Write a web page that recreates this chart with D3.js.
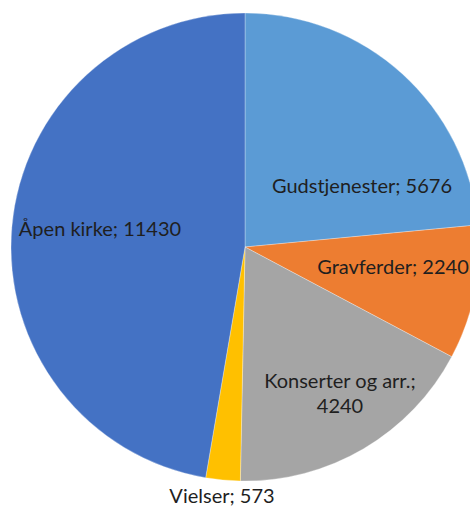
<!DOCTYPE html>
<html>
<head>
<meta charset="utf-8">
<script src="https://cdn.jsdelivr.net/npm/d3@7"></script>
<style>
  html, body { margin: 0; padding: 0; background: #fff; }
  svg { display: block; }
  .label { font-family: Lato, "Liberation Sans", sans-serif; font-size: 20px; fill: #1f1f1f; }
</style>
</head>
<body>
<svg id="chart"></svg>
<script>
const width = 470;
const height = 508;

// data
const categories = ['Gudstjenester', 'Gravferder', 'Konserter og arr.', 'Vielser', 'Åpen kirke'];
const values = [5676, 2240, 4240, 573, 11430];
const colors = ['#5B9BD5', '#ED7D31', '#A5A5A5', '#FFC000', '#4472C4'];

// label offsets from pie centre (Excel best-fit placement)
const labelDx = [117, 148, 95, -23, -145];
const labelDy = [-54, 27, 141, 256, -11];

const cx = 245, cy = 247, radius = 234;

const svg = d3.select('#chart')
              .attr('width', width)
              .attr('height', height)
              .attr('viewBox', [0, 0, width, height]);

const pie = d3.pie().sort(null).value(d => d.value);
const arc = d3.arc().innerRadius(0).outerRadius(radius);

const data = categories.map((c, i) => ({name: c, value: values[i], i: i}));

const g = svg.append('g').attr('transform', `translate(${cx},${cy})`);

g.selectAll('path')
  .data(pie(data))
  .enter()
    .append('path')
    .attr('d', arc)
    .attr('fill', d => colors[d.data.i])
    .attr('stroke', '#fff')
    .attr('stroke-width', 0.3);

const labels = g.selectAll('text')
  .data(pie(data))
  .enter()
    .append('text')
    .attr('class', 'label')
    .attr('text-anchor', 'middle')
    .attr('x', d => labelDx[d.data.i])
    .attr('y', d => labelDy[d.data.i]);

labels.each(function(d) {
  const t = d3.select(this);
  if (d.data.name === 'Konserter og arr.') {
    t.append('tspan').attr('x', labelDx[d.data.i]).text(d.data.name + ';');
    t.append('tspan').attr('x', labelDx[d.data.i]).attr('dy', 25).text(d.data.value);
  } else {
    t.text(d.data.name + '; ' + d.data.value);
  }
});
</script>
</body>
</html>
